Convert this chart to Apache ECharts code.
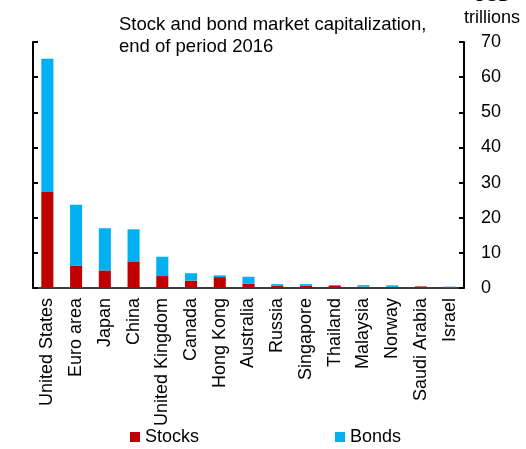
<!DOCTYPE html>
<html>
<head>
<meta charset="utf-8">
<script src="https://cdn.jsdelivr.net/npm/echarts@6/dist/echarts.min.js"></script>
<style>
  html, body { margin: 0; padding: 0; background: #ffffff; }
  #chart { width: 526px; height: 449px; }
</style>
</head>
<body>
<div id="chart"></div>
<script>
var categories = ['United States', 'Euro area', 'Japan', 'China', 'United Kingdom', 'Canada', 'Hong Kong',
  'Australia', 'Russia', 'Singapore', 'Thailand', 'Malaysia', 'Norway', 'Saudi Arabia', 'Israel']
var stocks = [27.3, 6.4, 5.0, 7.4, 3.4, 2.1, 3.1, 1.2, 0.6, 0.6, 0.6, 0.4, 0.3, 0.45, 0.2]
var bonds = [37.9, 17.3, 12.0, 9.3, 5.5, 2.1, 0.5, 2.0, 0.5, 0.5, 0.25, 0.4, 0.45, 0.05, 0.2]
var yTicks = [0, 10, 20, 30, 40, 50, 60, 70]

var chart = echarts.init(document.getElementById('chart'))
var font = 'Liberation Sans, Arial, sans-serif'
var option = {
  animation: false,
  textStyle: { fontFamily: font },
  title: [
    {
      text: 'Stock and bond market capitalization,\nend of period 2016',
      left: 119, top: 14, padding: 0,
      textStyle: { fontSize: 18.5, fontWeight: 'normal', color: '#000', lineHeight: 22, fontFamily: font }
    },
    {
      text: 'USD\ntrillions',
      left: 492, top: -15, padding: 0, textAlign: 'center',
      textStyle: { fontSize: 18, fontWeight: 'normal', color: '#000', lineHeight: 22, fontFamily: font }
    }
  ],
  legend: {
    bottom: -2, left: 125,
    itemWidth: 10, itemHeight: 10, itemGap: 136,
    icon: 'rect',
    textStyle: { fontSize: 18, color: '#000', fontFamily: font },
    data: ['Stocks', 'Bonds']
  },
  grid: { left: 33, right: 62, top: 42, bottom: 161 },
  xAxis: {
    type: 'category',
    data: categories,
    axisLine: { lineStyle: { color: '#000', width: 1.5 } },
    axisTick: { show: false },
    axisLabel: { rotate: 90, fontSize: 18, color: '#000', margin: 10, interval: 0, fontFamily: font }
  },
  yAxis: [
    {
      type: 'value', position: 'right',
      min: 0, max: 70, interval: 10,
      axisLine: { show: true, lineStyle: { color: '#000', width: 2 } },
      axisTick: { show: true, inside: true, length: 5, lineStyle: { color: '#000', width: 2 } },
      axisLabel: {
        fontSize: 18, color: '#000', margin: 17, fontFamily: font,
        formatter: function (v) { return yTicks.indexOf(v) >= 0 ? String(v) : '' }
      },
      splitLine: { show: false }
    },
    {
      type: 'value', position: 'left',
      min: 0, max: 70, interval: 10,
      axisLine: { show: true, lineStyle: { color: '#000', width: 2 } },
      axisTick: { show: true, inside: true, length: 5, lineStyle: { color: '#000', width: 2 } },
      axisLabel: { show: false },
      splitLine: { show: false }
    }
  ],
  series: [
    {
      name: 'Stocks', type: 'bar', stack: 'total', barWidth: '42%',
      itemStyle: { color: '#C00000' },
      data: stocks
    },
    {
      name: 'Bonds', type: 'bar', stack: 'total', barWidth: '42%',
      itemStyle: { color: '#00B0F0' },
      data: bonds
    }
  ]
}
chart.setOption(option)
</script>
</body>
</html>
